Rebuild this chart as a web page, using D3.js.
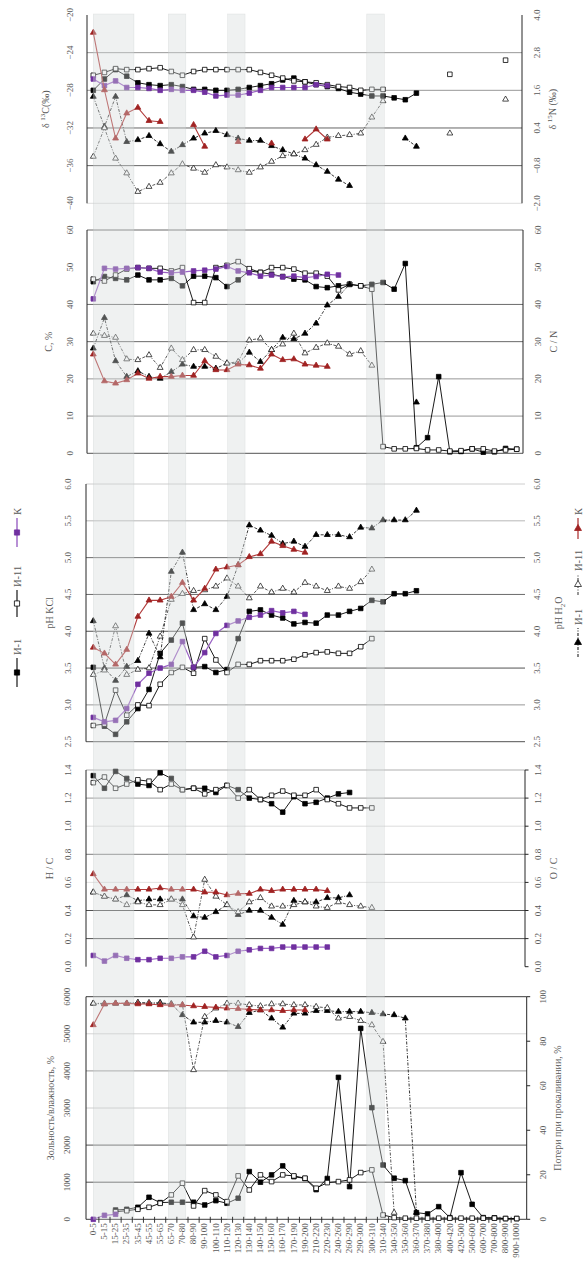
<!DOCTYPE html>
<html>
<head>
<meta charset="utf-8">
<script src="https://d3js.org/d3.v7.min.js"></script>
<style>
body { margin: 0; background: #fff; }
svg text { font-family: "Liberation Serif", "DejaVu Serif", serif; fill: #595959; }
</style>
</head>
<body>
<svg id="chart" width="583" height="1266"></svg>
<script>
const _ = null;

// depth intervals, cm
const depths = ["0-5","5-15","15-25","25-35","35-45","45-55","55-65","65-70","70-80","80-90",
  "90-100","100-110","110-120","120-130","130-140","140-150","150-160","160-170","170-190","190-200",
  "210-220","220-230","240-260","260-290","290-300","300-310","310-340","340-350","350-360","360-370",
  "370-380","380-400","400-420","420-500","500-600","600-700","700-800","800-900","900-1000"];

// delta 13C (left) / delta 15N (right)
const d13C_I1  = [-28.0,-26.8,-25.8,-26.5,-27.2,-27.4,-27.5,-27.4,-27.6,-27.9,-27.9,-28.0,-28.0,-27.9,-27.7,-27.5,-27.3,-26.9,-26.7,-27.1,-27.4,-27.6,-27.8,-28.2,-28.4,-28.6,-28.6,-28.8,-29.0,-28.3,_,_,_,_,_,_,_,_,_];
const d13C_I11 = [-26.4,-26.1,-25.7,-25.8,-25.8,-25.7,-25.6,-26.0,-26.4,-26.0,-25.8,-25.8,-25.8,-25.8,-25.8,-26.1,-26.4,-26.7,-27.0,-27.1,-27.2,-27.4,-27.6,-27.7,-28.0,-27.9,-27.9,_,_,_,_,_,-26.3,_,_,_,_,-24.8,_];
const d13C_K   = [-26.8,-27.5,-27.0,-27.7,-27.7,-27.8,-28.0,-27.9,-28.0,-28.0,-28.2,-28.6,-28.5,-28.5,-28.3,-28.0,-27.7,-27.7,-27.7,-27.7,-27.4,-27.5,_,_,_,_,_,_,_,_,_,_,_,_,_,_,_,_,_];
const d15N_I1  = [1.40,0.44,1.40,-0.04,0.02,0.15,-0.11,-0.35,-0.14,0.07,0.23,0.31,0.18,0.07,0.00,0.00,-0.17,-0.30,-0.43,-0.57,-0.78,-0.99,-1.24,-1.44,_,_,_,_,0.07,-0.19,_,_,_,_,_,_,_,_,_];
const d15N_I11 = [-0.51,0.40,-0.57,-1.04,-1.63,-1.47,-1.34,-1.04,-0.75,-0.89,-1.02,-0.78,-0.85,-0.94,-1.02,-0.85,-0.67,-0.49,-0.43,-0.30,-0.13,0.10,0.15,0.18,0.23,0.74,1.26,_,_,_,_,_,0.23,_,_,_,_,1.31,_];
const d15N_K   = [3.44,1.61,0.07,0.87,1.05,0.63,0.60,_,_,0.50,-0.19,_,_,-0.04,_,_,-0.09,_,_,0.04,0.36,0.04,_,_,_,_,_,_,_,_,_,_,_,_,_,_,_,_,_];

// C, % (left) / C/N (right)
const C_I1   = [46.1,47.5,47.0,46.6,47.9,46.6,46.6,47.0,45.0,47.6,47.6,47.2,44.8,46.6,49.0,48.6,48.1,47.5,46.8,46.6,44.8,44.5,45.0,45.4,45.0,45.4,45.9,44.1,51.0,1.5,4.2,20.6,0.4,0.5,1.2,0.3,0.4,1.3,1.1];
const C_I11  = [46.8,46.3,47.9,49.5,49.9,49.7,49.7,49.0,49.9,40.5,40.5,49.9,50.5,51.5,49.6,48.6,49.9,49.9,49.5,48.4,48.4,47.6,43.9,45.4,45.0,44.1,1.8,1.2,1.2,1.3,0.9,0.9,0.6,0.7,1.2,1.2,0.6,0.9,1.1];
const C_K    = [41.5,49.7,49.5,49.7,49.9,49.7,48.7,48.5,48.7,49.0,49.2,49.5,50.2,49.0,48.5,47.6,47.9,47.4,47.6,47.2,47.5,48.1,47.9,_,_,_,_,_,_,_,_,_,_,_,_,_,_,_,_];
const CN_I1  = [28.2,36.4,24.8,20.6,22.1,20.6,20.1,21.9,23.9,23.3,23.3,22.8,24.2,24.2,27.1,24.6,27.8,31.1,30.7,32.2,34.9,39.8,42.1,45.4,_,_,_,_,_,13.7,_,_,_,_,_,_,_,_,_];
const CN_I11 = [32.2,31.6,31.1,25.3,25.1,26.4,23.0,28.2,25.1,27.8,27.8,26.0,24.2,24.6,30.4,30.9,27.8,29.3,32.2,26.9,28.4,29.6,28.7,26.6,27.5,23.6,_,_,_,_,_,_,_,_,_,_,_,_,_];
const CN_K   = [26.6,19.4,18.8,19.7,21.5,20.1,20.6,20.6,20.9,20.9,24.8,22.4,22.4,23.9,23.7,22.8,26.6,25.1,25.3,23.9,23.6,23.3,_,_,_,_,_,_,_,_,_,_,_,_,_,_,_,_,_];

// pH KCl (left) / pH H2O (right)
const pHKCl_I1  = [3.51,2.71,2.60,2.77,2.95,3.21,3.70,3.88,4.11,3.51,3.52,3.44,3.48,3.90,4.27,4.29,4.22,4.18,4.10,4.12,4.11,4.22,4.22,4.27,4.31,4.42,4.40,4.51,4.51,4.55,_,_,_,_,_,_,_,_,_];
const pHKCl_I11 = [2.72,2.74,3.20,2.86,3.00,2.99,3.28,3.44,3.51,3.43,3.90,3.61,3.44,3.55,3.55,3.60,3.60,3.60,3.62,3.68,3.71,3.72,3.70,3.70,3.79,3.90,_,_,_,_,_,_,_,_,_,_,_,_,_];
const pHKCl_K   = [2.83,2.77,2.79,2.95,3.28,3.43,3.50,3.55,3.86,3.51,3.71,3.97,4.08,4.14,4.19,4.22,4.28,4.25,4.27,4.23,_,_,_,_,_,_,_,_,_,_,_,_,_,_,_,_,_,_,_];
const pHH2O_I1  = [4.14,3.50,3.33,3.52,3.60,3.97,3.65,4.81,5.07,4.29,4.37,4.29,4.47,4.90,5.44,5.37,5.30,5.19,5.22,5.15,5.31,5.31,5.31,5.28,5.41,5.40,5.51,5.51,5.51,5.64,_,_,_,_,_,_,_,_,_];
const pHH2O_I11 = [3.41,3.47,4.07,3.41,3.48,3.50,3.93,4.43,4.51,4.55,4.56,4.61,4.72,4.61,4.45,4.61,4.53,4.58,4.53,4.66,4.61,4.55,4.61,4.58,4.67,4.84,_,_,_,_,_,_,_,_,_,_,_,_,_];
const pHH2O_K   = [3.78,3.70,3.55,3.75,4.20,4.42,4.42,4.47,4.66,4.42,4.58,4.84,4.87,4.90,5.01,5.05,5.22,5.16,5.11,5.07,_,_,_,_,_,_,_,_,_,_,_,_,_,_,_,_,_,_,_];

// H/C (left) / O/C (right)
const HC_I1  = [1.36,1.27,1.39,1.34,1.30,1.29,1.38,1.34,1.26,1.27,1.27,1.24,1.29,1.26,1.20,1.19,1.16,1.10,1.21,1.16,1.17,1.20,1.23,1.24,_,_,_,_,_,_,_,_,_,_,_,_,_,_,_];
const HC_I11 = [1.31,1.35,1.27,1.30,1.33,1.32,1.26,1.30,1.26,1.27,1.23,1.26,1.29,1.20,1.26,1.19,1.22,1.25,1.22,1.22,1.26,1.19,1.16,1.13,1.13,1.13,_,_,_,_,_,_,_,_,_,_,_,_,_];
const HC_K   = [0.08,0.04,0.08,0.06,0.05,0.05,0.06,0.06,0.07,0.07,0.11,0.07,0.08,0.11,0.12,0.13,0.13,0.14,0.14,0.14,0.14,0.14,_,_,_,_,_,_,_,_,_,_,_,_,_,_,_,_,_];
const OC_I1  = [0.53,0.50,0.48,0.51,0.47,0.48,0.48,0.48,0.48,0.36,0.35,0.39,0.44,0.37,0.40,0.40,0.35,0.30,0.47,0.46,0.46,0.49,0.49,0.51,_,_,_,_,_,_,_,_,_,_,_,_,_,_,_];
const OC_I11 = [0.53,0.50,0.48,0.44,0.46,0.44,0.44,0.48,0.44,0.21,0.62,0.50,0.44,0.39,0.46,0.49,0.43,0.43,0.44,0.46,0.43,0.42,0.46,0.44,0.43,0.42,_,_,_,_,_,_,_,_,_,_,_,_,_];
const OC_K   = [0.66,0.55,0.55,0.55,0.55,0.55,0.56,0.55,0.55,0.55,0.53,0.53,0.51,0.52,0.52,0.55,0.54,0.55,0.55,0.55,0.55,0.54,_,_,_,_,_,_,_,_,_,_,_,_,_,_,_,_,_];

// ash / moisture, % (left) / loss on ignition, % (right)
const ash_I1  = [_,_,250,270,324,594,450,460,460,460,386,503,432,568,1286,1000,1197,1440,1150,1100,800,1100,3826,880,5147,3009,1464,1108,1043,180,144,341,45,1257,404,45,40,20,20];
const ash_I11 = [_,_,205,232,270,324,431,657,973,360,773,657,476,1170,790,1197,1016,1197,1170,1108,838,989,1016,1062,1259,1332,116,45,30,30,30,30,30,30,30,30,30,20,20];
const ash_K   = [0,108,135,_,_,_,_,_,_,_,_,_,_,_,_,_,_,_,_,_,_,_,_,_,_,_,_,_,_,_,_,_,_,_,_,_,_,_,_];
const loi_I1  = [97.0,96.7,97.0,97.0,97.3,97.0,97.3,96.7,91.8,88.5,88.5,89.2,88.5,86.5,92.8,94.0,90.3,86.2,92.5,92.5,93.7,93.7,93.3,93.3,93.3,92.8,92.2,91.8,90.3,3.0,_,_,_,_,_,_,_,_,_];
const loi_I11 = [97.0,97.0,97.0,97.0,97.3,97.3,97.0,96.7,96.3,67.1,91.0,94.8,97.0,97.0,96.3,95.8,96.7,96.7,96.3,96.3,95.5,95.0,90.3,91.0,89.2,87.3,79.8,3.0,_,_,_,_,_,_,_,_,_,_,_];
const loi_K   = [87.3,96.7,97.0,97.0,96.7,96.7,96.3,96.3,96.3,95.8,95.5,95.2,94.8,94.6,94.3,94.0,94.0,93.7,94.0,94.0,_,_,_,_,_,_,_,_,_,_,_,_,_,_,_,_,_,_,_];

// shaded horizons, in category steps from the first depth
const bands = [[0, 3.65], [6.73, 8.3], [12.06, 13.62], [24.54, 26.12]];

const svg = d3.select("#chart");
svg.append("rect").attr("width", 583).attr("height", 1266).attr("fill", "#fff");

const x = d3.scalePoint().domain(depths).range([93.3, 516.7]);
const xAt = f => x(depths[0]) + f * x.step();

const styles = {
  sqI1:  { sym: d3.symbolSquare, size: 21, fill: "#000", stroke: "#000", line: "#000", dash: null, lw: 0.9 },
  sqI11: { sym: d3.symbolSquare, size: 21, fill: "#fff", stroke: "#000", line: "#000", dash: null, lw: 0.9 },
  sqK:   { sym: d3.symbolSquare, size: 21, fill: "#7030a0", stroke: "#7030a0", line: "#9a62c4", dash: null, lw: 1.2 },
  trI1:  { sym: d3.symbolTriangle, size: 15, fill: "#000", stroke: "#000", line: "#222", dash: "3,1.5,1,1.5", lw: 0.9 },
  trI11: { sym: d3.symbolTriangle, size: 15, fill: "#fff", stroke: "#222", line: "#444", dash: "3,1.5,1,1.5", lw: 0.9 },
  trK:   { sym: d3.symbolTriangle, size: 15, fill: "#a02222", stroke: "#a02222", line: "#b13a3a", dash: null, lw: 1.1 }
};

const f1 = d3.format(".1f");
const panels = [
  { top: 15, bot: 203.3, xl: 87, xr: 522, lDom: [-40, -20], rDom: [-2, 4],
    lTicks: [-40, -36, -32, -28, -24, -20], rTicks: [-2, -0.8, 0.4, 1.6, 2.8, 4], lFmt: d3.format("d"), rFmt: f1,
    grid: [[-24, "#8c8c8c"], [-28, "#8c8c8c"], [-32, "#555"], [-36, "#555"], [-40, "#d9d9d9"]],
    rAxis: true, lLabX: 70, rLabX: 537, lTitleX: 45, rTitleX: 552,
    lTitle: ["δ ", "13", "C(‰)", "sup"], rTitle: ["δ ", "15", "N (‰)", "sup"],
    series: [[d13C_I1, "L", "sqI1"], [d13C_I11, "L", "sqI11"], [d13C_K, "L", "sqK"],
             [d15N_I1, "R", "trI1"], [d15N_I11, "R", "trI11"], [d15N_K, "R", "trK"]] },
  { top: 230, bot: 453.3, xl: 87, xr: 523, lDom: [0, 60], rDom: [0, 60],
    lTicks: [0, 10, 20, 30, 40, 50, 60], rTicks: [0, 10, 20, 30, 40, 50, 60], lFmt: d3.format("d"), rFmt: d3.format("d"),
    grid: [[60, "#595959"], [40, "#595959"], [30, "#595959"], [20, "#8c8c8c"], [10, "#8c8c8c"], [0, "#404040"]],
    rAxis: true, lLabX: 70, rLabX: 538, lTitleX: 48, rTitleX: 553,
    lTitle: ["C, %"], rTitle: ["C / N"],
    series: [[C_I1, "L", "sqI1"], [C_I11, "L", "sqI11"], [C_K, "L", "sqK"],
             [CN_I1, "R", "trI1"], [CN_I11, "R", "trI11"], [CN_K, "R", "trK"]] },
  { top: 484, bot: 741.7, xl: 86, xr: 525, lDom: [2.5, 6], rDom: [2.5, 6],
    lTicks: [2.5, 3, 3.5, 4, 4.5, 5, 5.5, 6], rTicks: [2.5, 3, 3.5, 4, 4.5, 5, 5.5, 6], lFmt: f1, rFmt: f1,
    grid: [[6, "#c8c8c8"], [5.5, "#b0b0b0"], [5, "#595959"], [4.5, "#595959"], [4, "#404040"], [3.5, "#404040"], [3, "#8c8c8c"], [2.5, "#404040"]],
    rAxis: false, lLabX: 68, rLabX: 537, lTitleX: 49, rTitleX: 558,
    lTitle: ["pH KCl"], rTitle: ["pH H", "2", "O", "sub"],
    series: [[pHKCl_I1, "L", "sqI1"], [pHKCl_I11, "L", "sqI11"], [pHKCl_K, "L", "sqK"],
             [pHH2O_I1, "R", "trI1"], [pHH2O_I11, "R", "trI11"], [pHH2O_K, "R", "trK"]] },
  { top: 770, bot: 966.7, xl: 86, xr: 525, lDom: [0, 1.4], rDom: [0, 1.4],
    lTicks: [0, 0.2, 0.4, 0.6, 0.8, 1, 1.2, 1.4], rTicks: [0, 0.2, 0.4, 0.6, 0.8, 1, 1.2, 1.4], lFmt: f1, rFmt: f1,
    grid: [[1.4, "#a6a6a6"], [1.2, "#8c8c8c"], [1.0, "#d9d9d9"], [0.8, "#6e6e6e"], [0.6, "#e0e0e0"], [0.4, "#404040"], [0.2, "#404040"]],
    rAxis: true, rTickMarks: true, lLabX: 68, rLabX: 538, lTitleX: 49, rTitleX: 553,
    lTitle: ["Н / С"], rTitle: ["О / С"],
    series: [[HC_I1, "L", "sqI1"], [HC_I11, "L", "sqI11"], [HC_K, "L", "sqK"],
             [OC_I1, "R", "trI1"], [OC_I11, "R", "trI11"], [OC_K, "R", "trK"]] },
  { top: 996.7, bot: 1219.3, xl: 86, xr: 526.7, lDom: [0, 6000], rDom: [0, 100],
    lTicks: [0, 1000, 2000, 3000, 4000, 5000, 6000], rTicks: [0, 20, 40, 60, 80, 100], lFmt: d3.format("d"), rFmt: d3.format("d"),
    grid: [[6000, "#262626"], [5000, "#d0d0d0"], [4000, "#8c8c8c"], [3000, "#c8c8c8"], [2000, "#404040"], [1000, "#404040"], [0, "#262626"]],
    rAxis: true, rTickMarks: true, lLabX: 67, rLabX: 543, lTitleX: 50, rTitleX: 557,
    lTitle: ["Зольность/влажность, %"], rTitle: ["Потери при прокаливании, %"],
    series: [[ash_I1, "L", "sqI1"], [ash_I11, "L", "sqI11"], [ash_K, "L", "sqK"],
             [loi_I1, "R", "trI1"], [loi_I11, "R", "trI11"], [loi_K, "R", "trK"]] }
];

function rotText(g, tx, ty, size) {
  return g.append("text")
    .attr("transform", "translate(" + tx + "," + ty + ") rotate(-90)")
    .attr("font-size", size);
}

function titleText(g, tx, ty, parts) {
  const t = rotText(g, tx, ty, 10).attr("text-anchor", "middle").attr("dy", "0.35em");
  if (parts.length === 1) { t.text(parts[0]); return; }
  const up = parts[3] === "sup" ? -4 : 3;
  t.append("tspan").text(parts[0]);
  t.append("tspan").attr("dy", up).attr("font-size", 7).text(parts[1]);
  t.append("tspan").attr("dy", -up).text(parts[2]);
}

const gGrid = svg.append("g");
const gData = svg.append("g");
const gTop = svg.append("g");
const gText = svg.append("g");

panels.forEach(p => {
  const yL = d3.scaleLinear().domain(p.lDom).range([p.bot, p.top]);
  const yR = d3.scaleLinear().domain(p.rDom).range([p.bot, p.top]);

  // gridlines
  p.grid.forEach(g => {
    gGrid.append("line")
      .attr("x1", p.xl).attr("x2", p.xr)
      .attr("y1", yL(g[0])).attr("y2", yL(g[0]))
      .attr("stroke", g[1]).attr("stroke-width", 0.9);
  });
  // axis lines
  gGrid.append("line").attr("x1", p.xl).attr("x2", p.xl).attr("y1", p.top).attr("y2", p.bot)
    .attr("stroke", "#262626").attr("stroke-width", 1);
  if (p.rAxis) {
    gGrid.append("line").attr("x1", p.xr).attr("x2", p.xr).attr("y1", p.top).attr("y2", p.bot)
      .attr("stroke", "#262626").attr("stroke-width", 1);
  }
  if (p.rTickMarks) {
    p.rTicks.forEach(t => {
      gGrid.append("line").attr("x1", p.xr).attr("x2", p.xr + 3.5)
        .attr("y1", yR(t)).attr("y2", yR(t)).attr("stroke", "#262626");
    });
  }

  // series
  p.series.forEach(s => {
    const st = styles[s[2]];
    const y = s[1] === "L" ? yL : yR;
    const pts = s[0].map((v, i) => ({ d: depths[i], v: v }));
    const line = d3.line().defined(d => d.v !== null).x(d => x(d.d)).y(d => y(d.v));
    gData.append("path").attr("d", line(pts)).attr("fill", "none")
      .attr("stroke", st.line).attr("stroke-width", st.lw)
      .attr("stroke-dasharray", st.dash);
    gData.selectAll(null).data(pts.filter(d => d.v !== null)).enter()
      .append("path")
      .attr("d", d3.symbol(st.sym, st.size))
      .attr("transform", d => "translate(" + x(d.d) + "," + y(d.v) + ")")
      .attr("fill", st.fill).attr("stroke", st.stroke).attr("stroke-width", 0.8);
  });

  // tick labels
  p.lTicks.forEach(t => {
    rotText(gText, p.lLabX, yL(t), 9).attr("text-anchor", "middle").attr("dy", "0.35em").text(p.lFmt(t));
  });
  p.rTicks.forEach(t => {
    rotText(gText, p.rLabX, yR(t), 9).attr("text-anchor", "middle").attr("dy", "0.35em").text(p.rFmt(t));
  });
  const mid = (p.top + p.bot) / 2;
  titleText(gText, p.lTitleX, mid + (p.lTitleOff || 0), p.lTitle);
  titleText(gText, p.rTitleX, mid, p.rTitle);
});

// shaded horizons drawn over the data
bands.forEach(b => {
  gTop.append("rect")
    .attr("x", xAt(b[0])).attr("width", xAt(b[1]) - xAt(b[0]))
    .attr("y", 14).attr("height", 1219.3 - 14)
    .attr("fill", "rgba(214,217,217,0.38)")
    .attr("stroke", "rgba(190,192,192,0.35)").attr("stroke-width", 0.6);
});

// bottom category axis
const axisY = 1219.3;
depths.forEach((d, i) => {
  if (i > 0) {
    const bx = x(d) - x.step() / 2;
    gTop.append("line").attr("x1", bx).attr("x2", bx).attr("y1", axisY - 2.5).attr("y2", axisY + 3.5)
      .attr("stroke", "#262626").attr("stroke-width", 0.9);
  }
  rotText(gText, x(d) - 0.5, axisY + 4, 9).attr("text-anchor", "end").attr("dy", "0.35em")
    .attr("fill", "#333").text(d);
});

// legend for squares (left)
function legend(gx, gy, items) {
  const g = svg.append("g").attr("transform", "translate(" + gx + "," + gy + ") rotate(-90)");
  items.forEach(it => {
    const st = styles[it.style];
    g.append("line").attr("x1", it.at).attr("x2", it.at + it.len).attr("y1", 0).attr("y2", 0)
      .attr("stroke", st.line).attr("stroke-width", st.lw + 0.2).attr("stroke-dasharray", st.dash);
    g.append("path").attr("d", d3.symbol(st.sym, st.size + 6))
      .attr("transform", "translate(" + (it.at + it.len / 2) + ",0) rotate(90)")
      .attr("fill", st.fill).attr("stroke", st.stroke).attr("stroke-width", 0.8);
    g.append("text").attr("x", it.at + it.len + 3).attr("dy", "0.35em").attr("font-size", 10.5)
      .attr("fill", "#111").text(it.label);
  });
}
legend(17, 687, [
  { at: 0, len: 29, style: "sqI1", label: "И-1" },
  { at: 70, len: 27, style: "sqI11", label: "И-11" },
  { at: 140, len: 29, style: "sqK", label: "К" }
]);
legend(578, 657, [
  { at: 0, len: 29, style: "trI1", label: "И-1" },
  { at: 62, len: 21, style: "trI11", label: "И-11" },
  { at: 118, len: 21, style: "trK", label: "К" }
]);
</script>
</body>
</html>
